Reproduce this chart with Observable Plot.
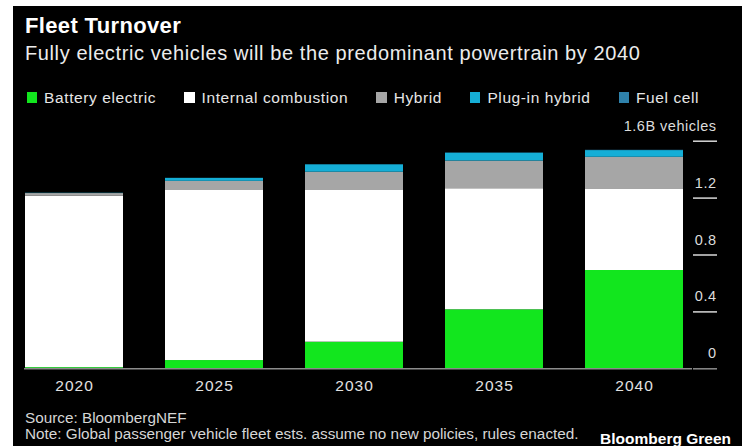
<!DOCTYPE html>
<html><head><meta charset="utf-8">
<script src="https://cdn.jsdelivr.net/npm/d3@7"></script>
<script src="https://cdn.jsdelivr.net/npm/@observablehq/plot@0.6"></script>
<style>
html,body{margin:0;padding:0;background:#fff;width:742px;height:446px;overflow:hidden;}
#wrap{position:absolute;left:13px;top:6px;width:729px;height:440px;background:#000;overflow:hidden;font-family:"Liberation Sans",Arial,sans-serif;}
.title{position:absolute;left:12px;top:9.2px;font-size:22px;line-height:22px;font-weight:bold;color:#fff;letter-spacing:0.35px;white-space:nowrap;}
.subtitle{position:absolute;left:12px;top:37.1px;font-size:20px;line-height:20px;color:#ececec;letter-spacing:0.6px;white-space:nowrap;}
.legend{position:absolute;left:13.7px;top:83.6px;display:flex;font-size:15.5px;line-height:15.5px;color:#e6e6e6;letter-spacing:0.6px;white-space:nowrap;}
.legend .item{margin-right:28px;}
.legend .sw{display:inline-block;width:10.4px;height:10.4px;margin-right:7px;vertical-align:baseline;}
#chart{position:absolute;left:0;top:104px;}
#chart svg g[aria-label="x-axis tick label"]{font-size:15.5px;letter-spacing:1px;}
#chart svg g[aria-label="y-axis tick label"]{font-size:14.5px;letter-spacing:0.5px;}
.source{position:absolute;left:12px;top:404px;font-size:15.3px;line-height:16px;color:#d6d6d6;white-space:nowrap;}
.brand{position:absolute;right:11px;top:425px;font-size:15.5px;line-height:16px;font-weight:bold;color:#fff;white-space:nowrap;}
</style>
</head>
<body>
<div id="wrap">
  <div class="title">Fleet Turnover</div>
  <div class="subtitle">Fully electric vehicles will be the predominant powertrain by 2040</div>
  <div class="legend" id="legend"></div>
  <div id="chart"></div>
  <div class="source">Source: BloombergNEF<br>Note: Global passenger vehicle fleet ests. assume no new policies, rules enacted.</div>
  <div class="brand">Bloomberg Green</div>
</div>
<script>
const years = ["2020", "2025", "2030", "2035", "2040"];
const seriesNames = ["Battery electric", "Internal combustion", "Hybrid", "Plug-in hybrid", "Fuel cell"];
const seriesColors = ["#12e61e", "#ffffff", "#a6a6a6", "#15aed6", "#2f82ab"];
const batteryElectric = [0.008, 0.058, 0.187, 0.415, 0.691];
const internalCombustion = [1.205, 1.200, 1.071, 0.851, 0.574];
const hybrid = [0.019, 0.060, 0.124, 0.194, 0.222];
const plugInHybrid = [0.002, 0.021, 0.052, 0.056, 0.047];
const fuelCell = [0, 0, 0.001, 0.001, 0.002];
const yTicks = [0, 0.4, 0.8, 1.2, 1.6];
const yTickLabels = ["0", "0.4", "0.8", "1.2", "1.6B vehicles"];

const seriesValues = [batteryElectric, internalCombustion, hybrid, plugInHybrid, fuelCell];
const data = [];
seriesNames.forEach((s, i) => years.forEach((y, j) => data.push({year: y, series: s, value: seriesValues[i][j]})));

// legend
const legend = document.getElementById("legend");
seriesNames.forEach((s, i) => {
  const item = document.createElement("div");
  item.className = "item";
  const sw = document.createElement("span");
  sw.className = "sw";
  sw.style.background = seriesColors[i];
  item.appendChild(sw);
  item.appendChild(document.createTextNode(s));
  legend.appendChild(item);
});

const chart = Plot.plot({
  width: 729,
  height: 290,
  marginLeft: 11,
  marginRight: 50,
  marginTop: 30.7,
  marginBottom: 31.7,
  style: {background: "transparent", fontFamily: "Liberation Sans, Arial, sans-serif", fontSize: "14px", color: "#dcdcdc"},
  x: {domain: years, range: [11, 671], paddingInner: 0.3, paddingOuter: 0},
  y: {domain: [0, 1.6]},
  color: {domain: seriesNames, range: seriesColors},
  marks: [
    Plot.barY(data, {x: "year", y: "value", fill: "series", order: seriesNames}),
    Plot.ruleY([0], {stroke: "#8c8c8c", strokeWidth: 1.5}),
    Plot.axisY(yTicks.filter(d => d > 0), {anchor: "right", tickSize: 24, stroke: "#d8d8d8", strokeWidth: 1.5, tickFormat: () => "", label: null}),
    Plot.axisY([0], {anchor: "right", tickSize: 24, stroke: "#8c8c8c", strokeWidth: 1.5, tickFormat: () => "", label: null}),
    Plot.axisY(yTicks, {anchor: "right", tickSize: 0, tickPadding: 24, textAnchor: "end", lineAnchor: "bottom", dy: -10.5, tickFormat: d => yTickLabels[yTicks.indexOf(d)], fill: "#dcdcdc", label: null}),
    Plot.axisX({tickSize: 0, tickPadding: 11, fill: "#e2e2e2", label: null})
  ]
});
document.getElementById("chart").appendChild(chart);
</script>
</body></html>
